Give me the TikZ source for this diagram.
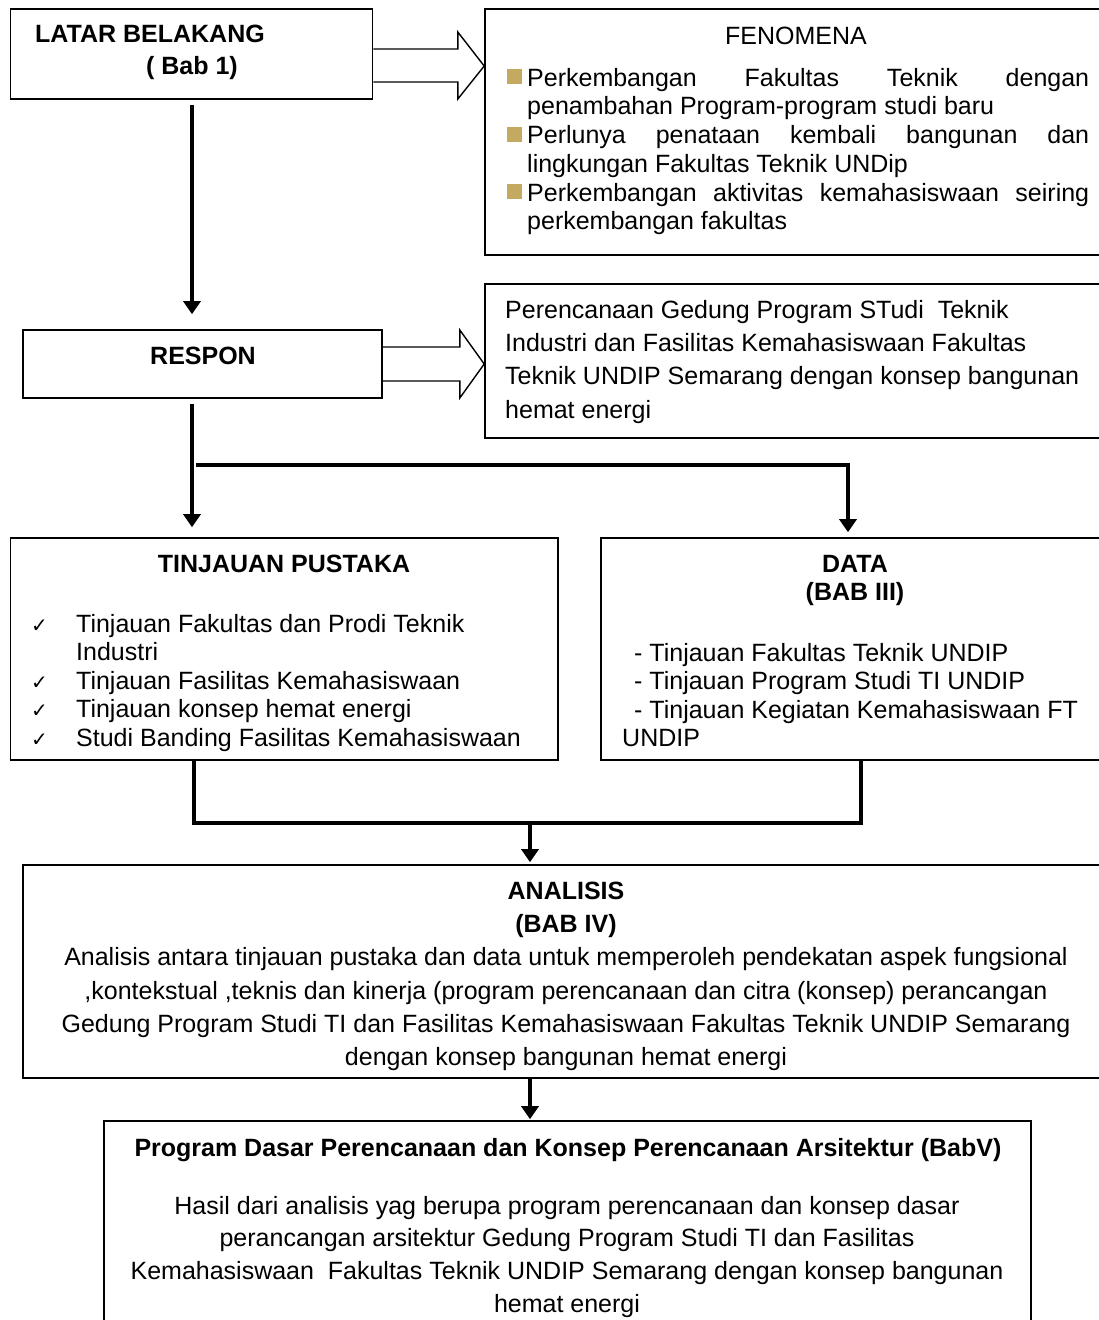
\documentclass[tikz,border=0pt]{standalone}
\usepackage{fontspec}
\setmainfont{Liberation Sans}
\newfontfamily\djv{DejaVu Sans}
\usetikzlibrary{arrows.meta,calc}
\definecolor{bulc}{RGB}{196,170,96}
\newcommand\fbul{\makebox[20pt][l]{\textcolor{bulc}{\rule[2pt]{15pt}{15pt}}}}
\newcommand\chk{\makebox[43pt][l]{\hspace*{-2pt}\djv\fontsize{20}{20}\selectfont ✓}}
\newcommand\fst{\rule{0pt}{22pt}}
\begin{document}
\begin{tikzpicture}[x=1pt,y=-1pt,
  box/.style={draw,line width=1.6pt,inner sep=0pt},
  conn/.style={line width=4.5pt,-{Triangle[width=17pt,length=13pt]}},
  plain/.style={line width=4.5pt},
  harrow/.style={draw,line width=1.4pt,line join=miter},
  txt/.style={inner sep=0pt,font=\fontsize{25}{28.7}\selectfont}]
\useasboundingbox (0,0) rectangle (1099,1320);

% boxes
\node[box,minimum width=362pt,minimum height=90pt] (lb) at (191.5,54) {};
\node[box,minimum width=630pt,minimum height=246pt] (fen) at (800,132) {};
\node[box,minimum width=359pt,minimum height=68pt] (resp) at (202.5,364) {};
\node[box,minimum width=630pt,minimum height=154pt] (rtx) at (800,361) {};
\node[box,minimum width=547.5pt,minimum height=222pt] (tin) at (284.25,649) {};
\node[box,minimum width=514pt,minimum height=222pt] (dat) at (858,649) {};
\node[box,minimum width=1092pt,minimum height=213pt] (ana) at (569,971.5) {};
\node[box,minimum width=927pt,minimum height=219pt] (prog) at (567.5,1230.5) {};

% hollow arrows
\draw[harrow] ($(lb.east)+(0,-5)$) -- ++(84.5,0) -- ++(0,-17) -- ($(fen.west |- lb.east)+(0,12)$) -- ($(lb.east)+(84.5,45)$) -- ++(0,-17) -- ($(lb.east)+(0,28)$);
\draw[harrow] ($(resp.east)+(0,-17)$) -- ++(77,0) -- ++(0,-17) -- (rtx.west |- resp.east) -- ($(resp.east)+(77,34)$) -- ++(0,-17) -- ($(resp.east)+(0,17)$);

% connectors
\draw[conn] ($(lb.south)+(0.5,5)$) -- ($(lb.south|-resp.north)+(0.5,-15)$);
\draw[conn] ($(lb.south|-resp.south)+(0.5,5)$) -- ($(lb.south|-tin.north)+(0.5,-10)$);
\coordinate (bx1) at (196,465);
\coordinate (bx2) at (848,465);
\draw[conn] (bx1) -- (bx2) -- ($(bx2 |- dat.north)+(0,-5)$);
\coordinate (m1) at (194,823);
\coordinate (m2) at (861,823);
\coordinate (m3) at (530,823);
\draw[plain] (tin.south -| m1) -- (m1) -- (m2) -- (dat.south -| m2);
\draw[conn] (m3) -- ($(m3 |- ana.north)+(0,-2)$);
\draw[conn] (ana.south -| m3) -- ($(m3 |- prog.north)+(0,-1)$);

% texts
\node[txt,anchor=base west,font=\fontsize{25}{30}\selectfont\bfseries] (t1) at (35,42) {LATAR BELAKANG};
\node[txt,anchor=base,font=\fontsize{25}{30}\selectfont\bfseries] (t2) at (192,74) {( Bab 1)};
\node[txt,anchor=base] (t3) at (796,44) {FENOMENA};
\node[txt,anchor=north west,align=left] (t4) at (507,64) {%
\fst\fbul\makebox[562pt][s]{Perkembangan Fakultas Teknik dengan}\\
\hspace*{20pt}penambahan Program-program studi baru\\
\fbul\makebox[562pt][s]{Perlunya penataan kembali bangunan dan}\\
\hspace*{20pt}lingkungan Fakultas Teknik UNDip\\
\fbul\makebox[562pt][s]{Perkembangan aktivitas kemahasiswaan seiring}\\
\hspace*{20pt}perkembangan fakultas};

\node[txt,anchor=base,font=\fontsize{25}{30}\selectfont\bfseries] (t5) at (203,364) {RESPON};
\node[txt,anchor=north west,align=left,font=\fontsize{25}{33.3}\selectfont] (t6) at (505,296) {%
\fst Perencanaan Gedung Program STudi\ \ Teknik\\
Industri dan Fasilitas Kemahasiswaan Fakultas\\
Teknik UNDIP Semarang dengan konsep bangunan\\
hemat energi};

\node[txt,anchor=base,font=\fontsize{25}{30}\selectfont\bfseries] (t7) at (284,572) {TINJAUAN PUSTAKA};
\node[txt,anchor=north west,align=left,font=\fontsize{25}{28.5}\selectfont] (t8) at (33,610) {%
\fst\chk Tinjauan Fakultas dan Prodi Teknik\\
\hspace*{43pt}Industri\\
\chk Tinjauan Fasilitas Kemahasiswaan\\
\chk Tinjauan konsep hemat energi\\
\chk Studi Banding Fasilitas Kemahasiswaan};

\node[txt,anchor=base,font=\fontsize{25}{30}\selectfont\bfseries] (t9) at (855,572) {DATA};
\node[txt,anchor=base,font=\fontsize{25}{30}\selectfont\bfseries] (t10) at (855,600) {(BAB III)};
\node[txt,anchor=north west,align=left,font=\fontsize{25}{28.5}\selectfont] (t11) at (622,639) {%
\fst\hspace*{12pt}- Tinjauan Fakultas Teknik UNDIP\\
\hspace*{12pt}- Tinjauan Program Studi TI UNDIP\\
\hspace*{12pt}- Tinjauan Kegiatan Kemahasiswaan FT\\
UNDIP};

\node[txt,anchor=north,align=center,font=\fontsize{25}{33.3}\selectfont] (t12) at (566,877) {%
\fst\textbf{ANALISIS}\\
\textbf{(BAB IV)}\\
Analisis antara tinjauan pustaka dan data untuk memperoleh pendekatan aspek fungsional\\
,kontekstual ,teknis dan kinerja (program perencanaan dan citra (konsep) perancangan\\
Gedung Program Studi TI dan Fasilitas Kemahasiswaan Fakultas Teknik UNDIP Semarang\\
dengan konsep bangunan hemat energi};

\node[txt,anchor=base,font=\fontsize{25}{30}\selectfont\bfseries] (t13) at (568,1156) {Program Dasar Perencanaan dan Konsep Perencanaan Arsitektur (BabV)};
\node[txt,anchor=north,align=center,font=\fontsize{25}{32.7}\selectfont] (t14) at (567,1192) {%
\fst Hasil dari analisis yag berupa program perencanaan dan konsep dasar\\
perancangan arsitektur Gedung Program Studi TI dan Fasilitas\\
Kemahasiswaan\ \ Fakultas Teknik UNDIP Semarang dengan konsep bangunan\\
hemat energi};
\end{tikzpicture}
\end{document}
